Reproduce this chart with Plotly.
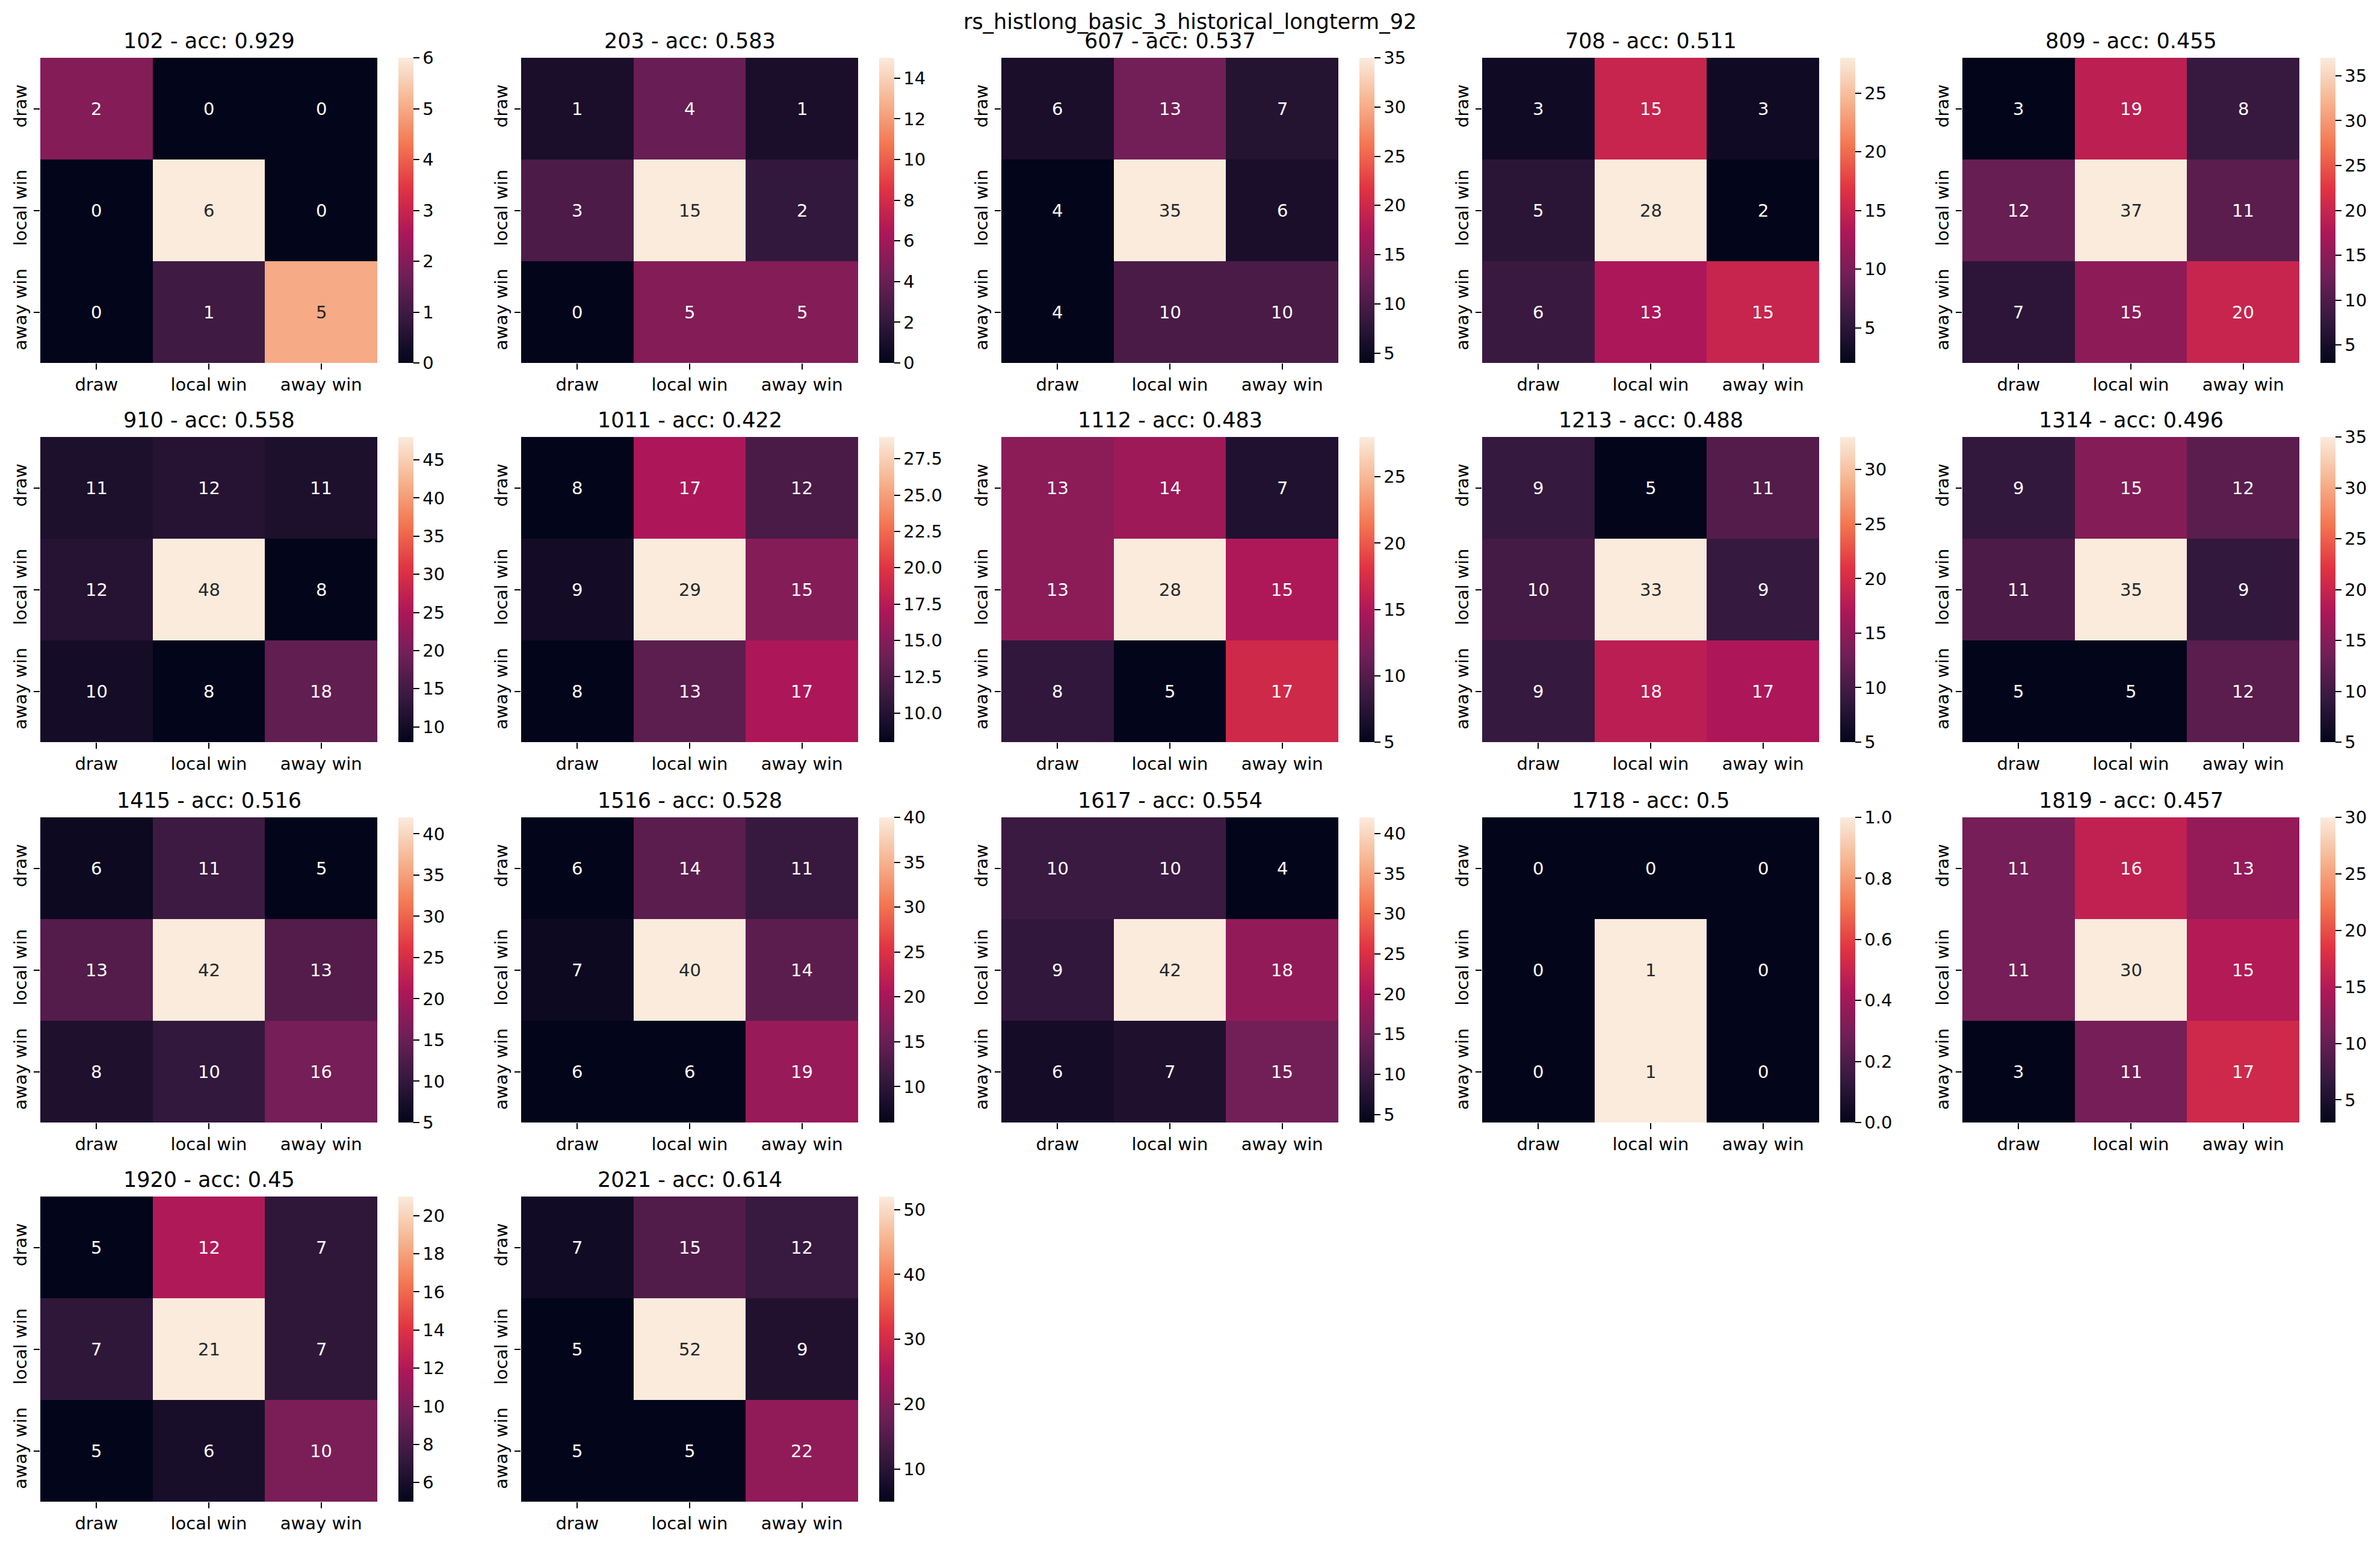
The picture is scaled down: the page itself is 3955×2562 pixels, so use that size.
import plotly.graph_objects as go

W, H = 3955, 2562

suptitle = "rs_histlong_basic_3_historical_longterm_92"
labels = ["draw", "local win", "away win"]
seasons = ["102", "203", "607", "708", "809", "910", "1011", "1112", "1213",
           "1314", "1415", "1516", "1617", "1718", "1819", "1920", "2021"]
accuracies = ["0.929", "0.583", "0.537", "0.511", "0.455", "0.558", "0.422", "0.483",
              "0.488", "0.496", "0.516", "0.528", "0.554", "0.5", "0.457", "0.45", "0.614"]

cm_102 = [[2, 0, 0], [0, 6, 0], [0, 1, 5]]
cm_203 = [[1, 4, 1], [3, 15, 2], [0, 5, 5]]
cm_607 = [[6, 13, 7], [4, 35, 6], [4, 10, 10]]
cm_708 = [[3, 15, 3], [5, 28, 2], [6, 13, 15]]
cm_809 = [[3, 19, 8], [12, 37, 11], [7, 15, 20]]
cm_910 = [[11, 12, 11], [12, 48, 8], [10, 8, 18]]
cm_1011 = [[8, 17, 12], [9, 29, 15], [8, 13, 17]]
cm_1112 = [[13, 14, 7], [13, 28, 15], [8, 5, 17]]
cm_1213 = [[9, 5, 11], [10, 33, 9], [9, 18, 17]]
cm_1314 = [[9, 15, 12], [11, 35, 9], [5, 5, 12]]
cm_1415 = [[6, 11, 5], [13, 42, 13], [8, 10, 16]]
cm_1516 = [[6, 14, 11], [7, 40, 14], [6, 6, 19]]
cm_1617 = [[10, 10, 4], [9, 42, 18], [6, 7, 15]]
cm_1718 = [[0, 0, 0], [0, 1, 0], [0, 1, 0]]
cm_1819 = [[11, 16, 13], [11, 30, 15], [3, 11, 17]]
cm_1920 = [[5, 12, 7], [7, 21, 7], [5, 6, 10]]
cm_2021 = [[7, 15, 12], [5, 52, 9], [5, 5, 22]]
matrices = [cm_102, cm_203, cm_607, cm_708, cm_809, cm_910, cm_1011, cm_1112, cm_1213,
            cm_1314, cm_1415, cm_1516, cm_1617, cm_1718, cm_1819, cm_1920, cm_2021]

cbar_ticks = [
    ["0", "1", "2", "3", "4", "5", "6"],
    ["0", "2", "4", "6", "8", "10", "12", "14"],
    ["5", "10", "15", "20", "25", "30", "35"],
    ["5", "10", "15", "20", "25"],
    ["5", "10", "15", "20", "25", "30", "35"],
    ["10", "15", "20", "25", "30", "35", "40", "45"],
    ["10.0", "12.5", "15.0", "17.5", "20.0", "22.5", "25.0", "27.5"],
    ["5", "10", "15", "20", "25"],
    ["5", "10", "15", "20", "25", "30"],
    ["5", "10", "15", "20", "25", "30", "35"],
    ["5", "10", "15", "20", "25", "30", "35", "40"],
    ["10", "15", "20", "25", "30", "35", "40"],
    ["5", "10", "15", "20", "25", "30", "35", "40"],
    ["0.0", "0.2", "0.4", "0.6", "0.8", "1.0"],
    ["5", "10", "15", "20", "25", "30"],
    ["6", "8", "10", "12", "14", "16", "18", "20"],
    ["10", "20", "30", "40", "50"],
]

# seaborn "rocket" approximation
rocket = [
    (0.0, "#03051A"), (1 / 7, "#35193E"), (2 / 7, "#701F57"), (3 / 7, "#AD1759"),
    (4 / 7, "#E13342"), (5 / 7, "#F37651"), (6 / 7, "#F6B48F"), (1.0, "#FAEBDD"),
]


def hex2rgb(h):
    h = h.lstrip("#")
    return [int(h[i:i + 2], 16) / 255 for i in (0, 2, 4)]


def cmap(t):
    t = min(max(t, 0.0), 1.0)
    for (p0, c0), (p1, c1) in zip(rocket[:-1], rocket[1:]):
        if t <= p1:
            f = 0 if p1 == p0 else (t - p0) / (p1 - p0)
            a, b = hex2rgb(c0), hex2rgb(c1)
            return [a[k] + (b[k] - a[k]) * f for k in range(3)]
    return hex2rgb(rocket[-1][1])


def lum(rgb):
    lin = [c / 12.92 if c <= 0.03928 else ((c + 0.055) / 1.055) ** 2.4 for c in rgb]
    return 0.2126 * lin[0] + 0.7152 * lin[1] + 0.0722 * lin[2]


col_left = [67, 866, 1664, 2463, 3261]
row_top = [96, 726, 1358, 1988]
hm_w, hm_h = 560, 507
cb_off, cb_w = 595, 25
FONT = "DejaVu Sans"

fig = go.Figure()
annotations = []
layout = {}

for i, (season, acc, z, ticks) in enumerate(zip(seasons, accuracies, matrices, cbar_ticks)):
    r, c = divmod(i, 5)
    left, top = col_left[c], row_top[r]
    ax = "" if i == 0 else str(i + 1)
    zmin = min(min(row) for row in z)
    zmax = max(max(row) for row in z)
    fig.add_trace(go.Heatmap(
        z=z, x=[0, 1, 2], y=[0, 1, 2],
        zmin=zmin, zmax=zmax,
        colorscale=[[p, col] for p, col in rocket],
        xaxis="x" + ax, yaxis="y" + ax,
        showscale=True,
        colorbar=dict(
            x=(left + cb_off) / W, xanchor="left", xpad=0,
            y=1 - top / H, yanchor="top", ypad=0,
            len=hm_h / H, lenmode="fraction",
            thickness=cb_w, thicknessmode="pixels",
            outlinewidth=0,
            tickmode="array", tickvals=[float(t) for t in ticks], ticktext=ticks,
            ticks="outside", ticklen=10, tickwidth=2, tickcolor="black",
            tickfont=dict(family=FONT, size=29, color="black"),
        ),
        hoverinfo="skip",
    ))
    layout["xaxis" + ax] = dict(
        domain=[left / W, (left + hm_w) / W], anchor="y" + ax,
        range=[-0.5, 2.5], tickmode="array", tickvals=[0, 1, 2], ticktext=labels,
        ticks="outside", ticklen=10, tickwidth=2, tickcolor="black",
        tickfont=dict(family=FONT, size=29, color="black"),
        showgrid=False, zeroline=False, showline=False,
    )
    layout["yaxis" + ax] = dict(
        domain=[1 - (top + hm_h) / H, 1 - top / H], anchor="x" + ax,
        range=[2.5, -0.5], tickmode="array", tickvals=[0, 1, 2], ticktext=labels,
        tickangle=-90,
        ticks="outside", ticklen=10, tickwidth=2, tickcolor="black",
        tickfont=dict(family=FONT, size=29, color="black"),
        showgrid=False, zeroline=False, showline=False,
    )
    annotations.append(dict(
        text=f"{season} - acc: {acc}", xref="paper", yref="paper",
        x=(left + hm_w / 2) / W, y=1 - (top - 28) / H,
        xanchor="center", yanchor="middle", showarrow=False,
        font=dict(family=FONT, size=35, color="black"),
    ))
    for yi in range(3):
        for xi in range(3):
            v = z[yi][xi]
            t = (v - zmin) / (zmax - zmin) if zmax > zmin else 0
            color = "#262626" if lum(cmap(t)) > 0.408 else "white"
            annotations.append(dict(
                text=str(v), xref="x" + ax, yref="y" + ax, x=xi, y=yi,
                showarrow=False, font=dict(family=FONT, size=29, color=color),
            ))

annotations.append(dict(
    text=suptitle, xref="paper", yref="paper", x=0.5, y=1 - 36 / H,
    xanchor="center", yanchor="middle", showarrow=False,
    font=dict(family=FONT, size=35, color="black"),
))

fig.update_layout(
    width=W, height=H, margin=dict(l=0, r=0, t=0, b=0),
    paper_bgcolor="white", plot_bgcolor="white",
    annotations=annotations, showlegend=False,
    **layout,
)

fig.write_html("out.html")
